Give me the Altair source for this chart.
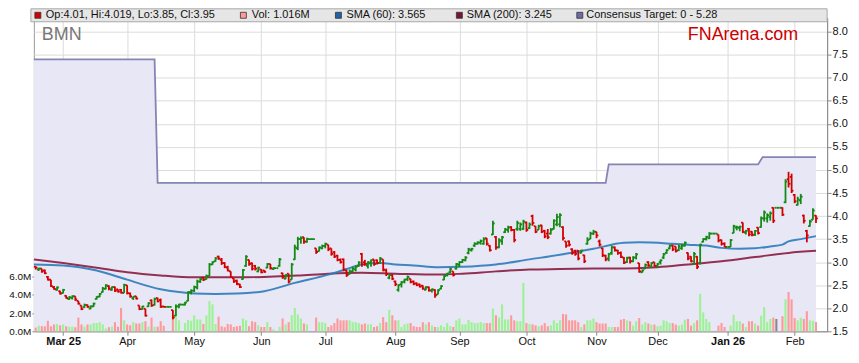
import altair as alt
import pandas as pd
import numpy as np

FONT = "Liberation Sans, Arial, sans-serif"

# x = weekday index counted from Mon 3 Mar 2025 (holidays keep their slot)
START_INDEX = -9

OPEN = [2.90, 2.84, 2.86, 2.82, 2.68, 2.62, 2.46, 2.40, 2.37,
        2.33, 2.27, 2.20, 2.22, 2.26, 2.16, 2.06, 2.02, 2.07, 1.99,
        2.04, 2.20, 2.25, 2.35, 2.42, 2.48, 2.40, 2.46, 2.41, 2.40,
        2.33, 2.50, 2.32, 2.22, 2.26, 2.06, 1.98, 1.99, 2.04, 2.17,
        2.07, 2.22, 2.18, 2.04, 2.03, 2.03, 1.96, 1.84, 2.04, 2.08,
        2.08, 2.16, 2.35, 2.38, 2.45, 2.58, 2.66, 2.63, 2.70, 2.95,
        3.02, 3.12, 3.05, 2.98, 2.88, 2.80, 2.65, 2.60, 2.52, 2.63,
        2.92, 3.05, 2.98, 2.92, 2.80, 2.84, 2.82, 2.88, 2.96, 2.85,
        2.87, 2.92, 2.76, 2.64, 2.75, 2.62, 3.06, 3.30, 3.50, 3.54,
        3.44, 3.50, 3.50, 3.30, 3.24, 3.30, 3.35, 3.38, 3.30, 3.22,
        3.14, 3.05, 3.06, 2.82, 2.74, 2.80, 2.84, 2.92, 3.18, 3.00,
        2.92, 2.98, 3.06, 3.04, 2.98, 3.06, 2.82, 2.66, 2.72, 2.58,
        2.40, 2.52, 2.58, 2.63, 2.64, 2.58, 2.54, 2.52, 2.49, 2.40,
        2.46, 2.38, 2.40, 2.30, 2.42, 2.62, 2.72, 2.78, 2.80, 2.86,
        2.94, 3.00, 3.04, 3.20, 3.26, 3.36, 3.40, 3.42, 3.40, 3.52,
        3.36, 3.60, 3.55, 3.32, 3.45, 3.65, 3.70, 3.76, 3.70, 3.72,
        3.72, 3.72, 3.86, 3.74, 4.00, 3.78, 3.70, 3.80, 3.68, 3.62,
        3.62, 3.72, 3.82, 3.82, 3.76, 3.45, 3.45, 3.28, 3.24, 3.25,
        3.20, 3.15, 3.40, 3.50, 3.62, 3.66, 3.45, 3.30, 3.14, 3.08,
        3.20, 3.32, 3.25, 3.20, 3.10, 3.00, 3.10, 3.02, 3.10, 2.98,
        2.78, 2.86, 3.00, 2.90, 3.00, 2.92, 3.00, 3.10, 3.20, 3.30,
        3.36, 3.34, 3.26, 3.30, 3.36, 3.20, 3.12, 2.96, 3.12, 2.98,
        3.44, 3.50, 3.52, 3.62, 3.62, 3.60, 3.48, 3.40, 3.33, 3.33,
        3.63, 3.75, 3.74, 3.86, 3.64, 3.72, 3.66, 3.60, 3.75, 3.76,
        3.95, 3.95, 3.98, 4.18, 4.18, 4.18, 4.18, 4.30, 4.80, 4.85,
        4.46, 4.24, 4.34, 4.01, 3.68, 3.78, 3.92, 4.01]

HIGH = [2.91, 2.88, 2.86, 2.84, 2.70, 2.62, 2.48, 2.47, 2.38,
        2.42, 2.28, 2.26, 2.28, 2.26, 2.16, 2.06, 2.10, 2.08, 2.06,
        2.12, 2.26, 2.33, 2.46, 2.52, 2.50, 2.47, 2.47, 2.41, 2.42,
        2.53, 2.50, 2.34, 2.26, 2.26, 2.06, 2.05, 1.99, 2.13, 2.19,
        2.23, 2.23, 2.21, 2.05, 2.03, 2.03, 1.96, 2.08, 2.10, 2.08,
        2.14, 2.37, 2.41, 2.49, 2.62, 2.66, 2.68, 2.73, 2.98, 3.02,
        3.11, 3.14, 3.09, 3.00, 2.92, 2.80, 2.65, 2.62, 2.53, 2.85,
        3.15, 3.05, 2.99, 2.94, 2.90, 2.85, 2.83, 2.98, 2.96, 2.89,
        2.87, 3.09, 2.77, 2.74, 2.75, 2.98, 3.38, 3.55, 3.56, 3.54,
        3.53, 3.50, 3.50, 3.30, 3.34, 3.38, 3.42, 3.38, 3.30, 3.24,
        3.16, 3.08, 3.08, 2.83, 2.84, 2.90, 2.92, 3.02, 3.20, 3.05,
        3.02, 3.06, 3.06, 3.06, 3.11, 3.06, 2.86, 2.74, 2.74, 2.60,
        2.52, 2.59, 2.64, 2.71, 2.64, 2.60, 2.56, 2.53, 2.50, 2.48,
        2.47, 2.43, 2.41, 2.41, 2.50, 2.73, 2.77, 2.88, 2.80, 2.98,
        3.02, 3.07, 3.13, 3.31, 3.31, 3.43, 3.45, 3.49, 3.54, 3.52,
        3.37, 3.90, 3.57, 3.52, 3.57, 3.74, 3.79, 3.78, 3.72, 3.90,
        3.86, 3.92, 3.88, 3.86, 4.03, 3.78, 3.81, 3.81, 3.70, 3.72,
        3.74, 3.93, 4.05, 4.06, 3.78, 3.45, 3.47, 3.30, 3.27, 3.26,
        3.27, 3.16, 3.54, 3.66, 3.70, 3.66, 3.49, 3.31, 3.16, 3.20,
        3.36, 3.34, 3.27, 3.23, 3.11, 3.12, 3.12, 3.13, 3.20, 2.98,
        2.84, 2.97, 3.02, 3.00, 3.00, 2.98, 3.06, 3.20, 3.28, 3.38,
        3.38, 3.34, 3.38, 3.40, 3.45, 3.21, 3.13, 3.22, 3.13, 3.40,
        3.52, 3.57, 3.65, 3.62, 3.62, 3.60, 3.49, 3.43, 3.33, 3.50,
        3.81, 3.79, 3.79, 3.86, 3.70, 3.74, 3.67, 3.70, 3.76, 3.99,
        4.12, 4.06, 4.10, 4.19, 4.18, 4.18, 4.19, 4.80, 4.96, 4.92,
        4.48, 4.42, 4.48, 4.03, 3.70, 3.92, 4.17, 4.019]

LOW = [2.84, 2.81, 2.77, 2.74, 2.60, 2.46, 2.40, 2.38, 2.30,
       2.32, 2.21, 2.18, 2.19, 2.16, 2.08, 1.96, 2.01, 2.01, 1.98,
       2.03, 2.19, 2.24, 2.34, 2.41, 2.39, 2.38, 2.35, 2.34, 2.32,
       2.33, 2.30, 2.23, 2.18, 2.19, 1.96, 1.97, 1.82, 2.03, 2.03,
       2.06, 2.13, 2.01, 2.02, 2.03, 2.03, 1.76, 1.83, 2.00, 2.08,
       2.06, 2.15, 2.30, 2.35, 2.41, 2.55, 2.59, 2.62, 2.70, 2.94,
       3.01, 3.05, 2.94, 2.87, 2.80, 2.66, 2.55, 2.50, 2.44, 2.62,
       2.90, 2.92, 2.82, 2.82, 2.78, 2.76, 2.77, 2.87, 2.84, 2.83,
       2.87, 2.90, 2.64, 2.63, 2.54, 2.62, 3.05, 3.26, 3.40, 3.40,
       3.42, 3.50, 3.50, 3.18, 3.23, 3.28, 3.30, 3.24, 3.14, 3.09,
       3.02, 2.97, 2.80, 2.68, 2.73, 2.78, 2.80, 2.90, 2.90, 2.92,
       2.86, 2.90, 2.92, 2.95, 2.97, 2.80, 2.70, 2.63, 2.61, 2.48,
       2.36, 2.45, 2.54, 2.59, 2.54, 2.50, 2.48, 2.45, 2.40, 2.39,
       2.36, 2.34, 2.23, 2.30, 2.41, 2.61, 2.69, 2.76, 2.69, 2.84,
       2.90, 2.98, 3.02, 3.17, 3.23, 3.33, 3.38, 3.38, 3.38, 3.36,
       3.23, 3.59, 3.27, 3.30, 3.38, 3.63, 3.64, 3.67, 3.43, 3.68,
       3.68, 3.70, 3.66, 3.72, 3.79, 3.63, 3.70, 3.63, 3.52, 3.50,
       3.60, 3.71, 3.78, 3.76, 3.47, 3.31, 3.34, 3.16, 3.14, 3.04,
       3.19, 2.98, 3.38, 3.50, 3.59, 3.52, 3.34, 3.11, 3.02, 3.02,
       3.16, 3.23, 3.16, 3.09, 2.96, 2.98, 2.97, 3.00, 3.06, 2.77,
       2.77, 2.85, 2.90, 2.88, 2.90, 2.88, 2.95, 3.07, 3.18, 3.28,
       3.24, 3.21, 3.24, 3.27, 3.34, 3.04, 3.00, 2.95, 2.85, 2.95,
       3.43, 3.47, 3.50, 3.62, 3.62, 3.43, 3.36, 3.33, 3.33, 3.33,
       3.63, 3.69, 3.67, 3.63, 3.60, 3.56, 3.56, 3.57, 3.60, 3.75,
       3.88, 3.86, 3.90, 3.85, 4.18, 4.18, 4.00, 4.28, 4.62, 4.50,
       4.28, 4.23, 4.26, 3.84, 3.43, 3.77, 3.92, 3.85]

CLOSE = [2.88, 2.86, 2.80, 2.76, 2.62, 2.48, 2.42, 2.45, 2.32,
         2.40, 2.22, 2.24, 2.26, 2.19, 2.10, 1.98, 2.07, 2.03, 2.04,
         2.10, 2.25, 2.31, 2.43, 2.50, 2.43, 2.46, 2.38, 2.36, 2.34,
         2.50, 2.33, 2.26, 2.25, 2.21, 1.98, 2.04, 1.84, 2.11, 2.06,
         2.20, 2.15, 2.03, 2.03, 2.03, 2.03, 1.80, 2.04, 2.08, 2.08,
         2.12, 2.35, 2.38, 2.46, 2.58, 2.63, 2.62, 2.70, 2.95, 3.00,
         3.08, 3.08, 2.98, 2.90, 2.82, 2.68, 2.58, 2.53, 2.46, 2.83,
         3.12, 2.96, 2.86, 2.86, 2.88, 2.78, 2.79, 2.96, 2.87, 2.87,
         2.87, 3.06, 2.67, 2.72, 2.58, 2.95, 3.32, 3.50, 3.52, 3.45,
         3.50, 3.50, 3.50, 3.22, 3.32, 3.35, 3.40, 3.28, 3.18, 3.12,
         3.05, 3.00, 2.84, 2.72, 2.80, 2.86, 2.90, 2.99, 2.95, 2.96,
         3.00, 3.04, 2.96, 2.98, 3.08, 2.84, 2.74, 2.72, 2.64, 2.52,
         2.50, 2.56, 2.62, 2.68, 2.57, 2.53, 2.50, 2.47, 2.43, 2.45,
         2.39, 2.41, 2.28, 2.39, 2.48, 2.70, 2.75, 2.85, 2.72, 2.96,
         3.00, 3.05, 3.10, 3.28, 3.29, 3.40, 3.43, 3.46, 3.50, 3.40,
         3.26, 3.84, 3.32, 3.48, 3.54, 3.71, 3.75, 3.70, 3.48, 3.85,
         3.82, 3.88, 3.70, 3.82, 3.85, 3.66, 3.78, 3.66, 3.56, 3.54,
         3.70, 3.90, 3.98, 4.02, 3.52, 3.36, 3.38, 3.20, 3.18, 3.08,
         3.25, 3.02, 3.48, 3.62, 3.66, 3.58, 3.38, 3.15, 3.06, 3.17,
         3.32, 3.26, 3.20, 3.12, 2.99, 3.09, 3.02, 3.10, 3.17, 2.80,
         2.82, 2.94, 2.93, 2.98, 2.92, 2.96, 3.04, 3.17, 3.26, 3.36,
         3.28, 3.24, 3.34, 3.36, 3.42, 3.08, 3.02, 3.18, 2.90, 3.38,
         3.50, 3.55, 3.62, 3.62, 3.62, 3.47, 3.40, 3.33, 3.33, 3.48,
         3.78, 3.76, 3.77, 3.66, 3.68, 3.60, 3.59, 3.68, 3.63, 3.95,
         4.08, 4.02, 4.06, 3.90, 4.18, 4.18, 4.03, 4.75, 4.70, 4.55,
         4.32, 4.36, 4.42, 3.90, 3.58, 3.88, 4.12, 3.95]

VOLUME_M = [0.4, 0.6, 0.55, 0.55, 1.15, 0.55, 0.75, 0.8, 0.65,
            0.75, 0.55, 0.5, 0.5, 0.45, 1.5, 0.75, 0.5, 0.75, 0.75,
            0.9, 0.9, 1.0, 0.75, 0.3, 0.45, 0.5, 1.0, 0.5, 2.55,
            1.2, 0.75, 0.65, 1.0, 0.85, 0.85, 1.0, 1.1, 0.5, 1.5,
            0.5, 0.5, 1.1, 0.6, 0, 0, 1.75, 2.95, 1.2, 0,
            0.9, 1.25, 1.15, 1.75, 1.3, 1.3, 0.8, 1.75, 3.3, 2.95,
            0.8, 1.6, 0.55, 0.45, 0.8, 0.75, 0.47, 0.55, 0.6, 1.4,
            1.2, 0.55, 1.1, 1.0, 0.65, 0.47, 0.47, 1.0, 0.47, 0.22,
            0, 0.47, 1.4, 0.75, 1.0, 1.75, 2.55, 1.85, 1.4, 0.85,
            0.76, 0, 0, 1.5, 1.0, 1.0, 0.9, 0.47, 0.65, 0.9,
            1.4, 1.2, 1.2, 1.2, 1.2, 1.0, 1.0, 0.9, 0.76, 0.85,
            0.76, 0.76, 0.47, 0.55, 0.9, 1.55, 1.0, 2.35, 1.75, 1.2,
            1.2, 0.47, 0.76, 0.85, 0.9, 0.55, 0.47, 0.47, 1.0, 0.76,
            1.0, 0.65, 0.47, 0.47, 0.65, 0.47, 0.9, 0.55, 0.47, 1.2,
            1.4, 0.76, 0.76, 1.25, 1.0, 0.9, 0.9, 1.0, 0.9, 0.9,
            0.9, 2.5, 1.75, 1.5, 2.95, 1.3, 1.3, 1.75, 1.2, 1.1,
            1.1, 5.3, 0.9, 0.8, 0.76, 0.65, 0.55, 0.65, 0.9, 0.55,
            0.65, 1.2, 0.9, 1.2, 1.9, 1.85, 1.2, 1.2, 1.2, 1.0,
            0.47, 0.76, 1.2, 1.2, 1.4, 1.0, 0.85, 0.85, 0.85, 0.47,
            0.47, 0.47, 0.47, 1.27, 1.35, 1.2, 1.1, 0.62, 1.1, 1.45,
            0.73, 1.0, 0.85, 0.73, 0.73, 0.55, 0.62, 1.2, 1.1, 0.9,
            0.9, 0.73, 0.62, 0.73, 1.27, 1.35, 0.62, 0.9, 1.2, 4.1,
            2.07, 1.35, 1.0, 0, 0, 0.62, 0.9, 0.47, 0, 0.62,
            1.8, 1.1, 1.1, 0.85, 0.47, 1.1, 1.1, 0.85, 0.62, 1.7,
            2.65, 1.0, 1.35, 1.5, 1.35, 0, 1.65, 3.5, 4.3, 3.5,
            1.45, 1.2, 1.5, 1.35, 2.2, 1.2, 1.15, 1.016]

SMA60_IDX = [-9.6, 0, 11, 21, 32, 38, 43, 50, 57, 66, 76, 87, 93, 98, 104, 109,
             115, 123, 131, 142, 153, 163, 174, 184, 189, 200, 205, 211, 216,
             222, 227, 232, 236, 238, 242, 247]
SMA60_VAL = [2.95, 2.93, 2.82, 2.62, 2.41, 2.35, 2.32, 2.31, 2.32, 2.37, 2.55,
             2.73, 2.85, 2.95, 2.98, 2.95, 2.93, 2.89, 2.90, 2.95, 3.06, 3.16,
             3.29, 3.42, 3.43, 3.40, 3.38, 3.36, 3.31, 3.29, 3.30, 3.34, 3.38,
             3.45, 3.50, 3.565]

SMA200_IDX = [-9.6, 0, 11, 21, 32, 43, 57, 77, 87, 98, 109, 123, 131, 142, 153,
              163, 174, 188, 195, 205, 216, 227, 238, 247]
SMA200_VAL = [3.06, 2.98, 2.88, 2.78, 2.71, 2.67, 2.67, 2.71, 2.75, 2.77, 2.75,
              2.73, 2.75, 2.80, 2.84, 2.85, 2.86, 2.87, 2.89, 2.95, 3.02, 3.11,
              3.20, 3.245]

TARGET_IDX = [-9.6, 30, 31, 178, 179, 228, 229.5, 247]
TARGET_VAL = [7.40, 7.40, 4.72, 4.72, 5.12, 5.12, 5.28, 5.28]

MONTH_TICKS = [0, 21, 43, 65, 86, 109, 130, 152, 175, 195, 218, 240]
MONTH_LABELS = ["Mar 25", "Apr", "May", "Jun", "Jul", "Aug", "Sep", "Oct",
                "Nov", "Dec", "Jan 26", "Feb"]
BOLD_TICKS = [0, 218]

PRICE_TICKS = [1.5, 2.0, 2.5, 3.0, 3.5, 4.0, 4.5, 5.0, 5.5, 6.0, 6.5, 7.0, 7.5, 8.0]
VOL_TICKS = [0, 2, 4, 6]

LEGEND_OHLC = "Op:4.01, Hi:4.019, Lo:3.85, Cl:3.95"
LEGEND_VOL = "Vol: 1.016M"
LEGEND_SMA60 = "SMA (60): 3.565"
LEGEND_SMA200 = "SMA (200): 3.245"
LEGEND_TARGET = "Consensus Target: 0 - 5.28"

# ---------------------------------------------------------------- layout
W, H = 797, 315
X_DOMAIN = [-9.6, 250.65]
PRICE_DOMAIN = [1.5, 8.303]
VOL_DOMAIN = [0, 34.35]

GREEN = "#138A13"
RED = "#D40000"
VOL_UP = "#9CF294"
VOL_DOWN = "#FF9999"
VOL_FLAT = "#888888"
GRID = "#DCDCDC"
AXIS = "#8A8A8A"

n = len(CLOSE)
df = pd.DataFrame({
    "i": list(range(START_INDEX, START_INDEX + n)),
    "o": OPEN, "h": HIGH, "l": LOW, "c": CLOSE, "v": VOLUME_M,
})
df["io"] = df["i"] - 0.6
df["ic"] = df["i"] + 0.6
df["bar_dir"] = np.where(df["c"] >= df["o"], "bar_up", "bar_down")
df["vol_dir"] = np.where(df["c"] > df["o"], "vol_up",
                         np.where(df["c"] < df["o"], "vol_down", "vol_flat"))

sma60 = pd.DataFrame({"i": SMA60_IDX, "p": SMA60_VAL})
sma200 = pd.DataFrame({"i": SMA200_IDX, "p": SMA200_VAL})
target = pd.DataFrame({"i": TARGET_IDX, "p": TARGET_VAL})
target["base"] = PRICE_DOMAIN[0]

label_expr = "''"
for v, lab in reversed(list(zip(MONTH_TICKS, MONTH_LABELS))):
    label_expr = f"datum.value == {v} ? '{lab}' : ({label_expr})"
bold_test = " || ".join(f"datum.value == {v}" for v in BOLD_TICKS)

x_axis = alt.Axis(values=MONTH_TICKS, labelExpr=label_expr, grid=True, gridColor=GRID,
                  domainColor=AXIS, tickColor=AXIS, tickSize=4, labelPadding=0,
                  labelFontSize=11, labelFont=FONT, labelColor="#111", labelFlush=False,
                  labelFontWeight={"condition": {"test": bold_test, "value": "bold"}, "value": "normal"},
                  title=None)
x_scale = alt.Scale(domain=X_DOMAIN, nice=False, zero=False, padding=0)


def X(field):
    return alt.X(field, type="quantitative", scale=x_scale, axis=x_axis)


price_scale = alt.Scale(domain=PRICE_DOMAIN, nice=False, zero=False)
price_axis = alt.Axis(orient="right", values=PRICE_TICKS, format=".1f", grid=True, gridColor=GRID,
                      domainColor=AXIS, tickColor=AXIS, tickSize=4, labelPadding=1,
                      labelFontSize=11, labelFont=FONT, labelColor="#111", title=None)
vol_axis = alt.Axis(orient="left", values=VOL_TICKS, labelExpr="format(datum.value, '.1f') + 'M'",
                    grid=False, domain=False, tickColor=AXIS, tickSize=2, labelPadding=1,
                    labelFontSize=10, labelFont=FONT, labelColor="#111", title=None)

area = alt.Chart(target).mark_area(color="#E7E7F6", opacity=1).encode(
    x=X("i"),
    y=alt.Y("p:Q", scale=price_scale, axis=None),
    y2="base:Q",
)

vol = alt.Chart(df).mark_bar(size=2.1).encode(
    x=X("i"),
    y=alt.Y("v:Q", scale=alt.Scale(domain=VOL_DOMAIN, nice=False, zero=True), axis=vol_axis),
    color=alt.Color("vol_dir:N", scale=alt.Scale(domain=["vol_up", "vol_down", "vol_flat"],
                                                 range=[VOL_UP, VOL_DOWN, VOL_FLAT]), legend=None),
)

target_line = alt.Chart(target).mark_line(color="#8585B3", strokeWidth=1.8).encode(
    x=X("i"), y=alt.Y("p:Q", scale=price_scale, axis=None))

sma200_line = alt.Chart(sma200).mark_line(color="#8A1C40", strokeWidth=2, interpolate="monotone",
                                          opacity=0.9).encode(
    x=X("i"), y=alt.Y("p:Q", scale=price_scale, axis=None))

sma60_line = alt.Chart(sma60).mark_line(color="#2C7BBA", strokeWidth=2, interpolate="monotone",
                                        opacity=0.9).encode(
    x=X("i"), y=alt.Y("p:Q", scale=price_scale, axis=None))

bar_color = alt.Color("bar_dir:N", scale=alt.Scale(domain=["bar_up", "bar_down"], range=[GREEN, RED]),
                      legend=None)

hl = alt.Chart(df).mark_rule(strokeWidth=1.8).encode(
    x=X("i"), y=alt.Y("l:Q", scale=price_scale, axis=price_axis), y2="h:Q", color=bar_color)
open_tick = alt.Chart(df).mark_rule(strokeWidth=1.8).encode(
    x=X("io"), x2="i:Q", y=alt.Y("o:Q", scale=price_scale, axis=None), color=bar_color)
close_tick = alt.Chart(df).mark_rule(strokeWidth=1.8).encode(
    x=X("i"), x2="ic:Q", y=alt.Y("c:Q", scale=price_scale, axis=None), color=bar_color)

one = pd.DataFrame({"a": [0]})

legend_box = alt.Chart(one).mark_rect(fill="#E6E6E6", stroke="#A8A8A8", strokeWidth=1).encode(
    x=alt.value(-3), x2=alt.value(W), y=alt.value(-9), y2=alt.value(4))


def swatch(xc, color):
    return alt.Chart(one).mark_rect(fill=color, stroke="#333333", strokeWidth=0.8).encode(
        x=alt.value(xc - 3), x2=alt.value(xc + 3), y=alt.value(-5.5), y2=alt.value(0.5))


def label(x, text, size=11, color="#111", align="left", baseline="middle", y=-2.5):
    return alt.Chart(one).mark_text(text=text, fontSize=size, font=FONT, color=color,
                                    align=align, baseline=baseline).encode(
        x=alt.value(x), y=alt.value(y))


legend_layers = [
    legend_box,
    swatch(4, RED), label(12, LEGEND_OHLC),
    swatch(210.5, "#FF9999"), label(219, LEGEND_VOL),
    swatch(306, "#1F64A8"), label(314, LEGEND_SMA60),
    swatch(427.5, "#7A1434"), label(435, LEGEND_SMA200),
    swatch(548.5, "#6C6CA6"), label(555, LEGEND_TARGET),
    label(8, "BMN", size=18, color="#777777", baseline="alphabetic", y=22),
    label(768, "FNArena.com", size=18, color="#CC0000", align="right", baseline="alphabetic", y=22),
]

chart = alt.layer(
    area, vol, target_line, sma200_line, sma60_line, hl, open_tick, close_tick, *legend_layers
).resolve_scale(y="independent", color="independent").properties(
    width=W, height=H,
    padding={"left": 26, "top": 9, "right": 24, "bottom": 20},
    autosize=alt.AutoSizeParams(type="none"),
    background="white",
).configure_view(stroke="#9A9A9A", strokeWidth=1)

chart.save("out.html", embed_options={"renderer": "svg", "actions": False})
